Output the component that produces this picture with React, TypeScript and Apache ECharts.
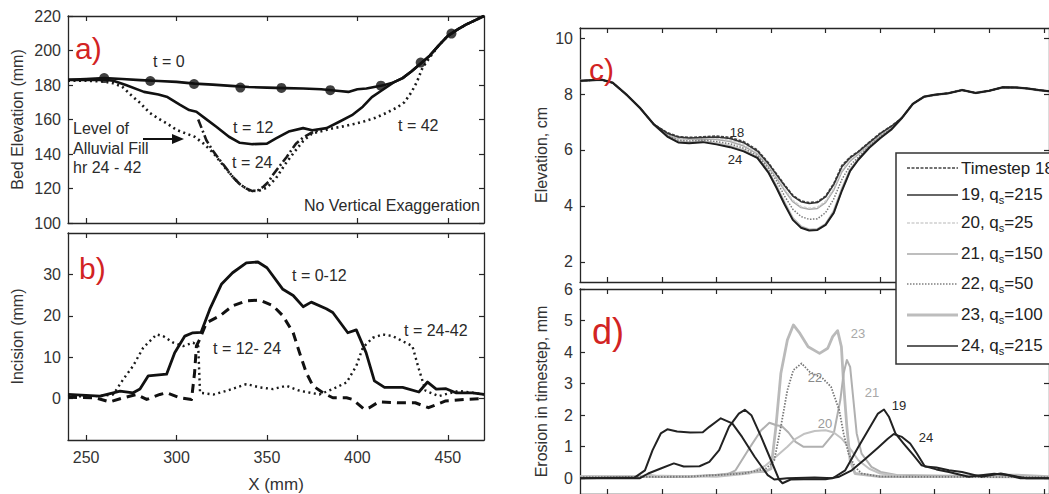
import React, { useEffect, useRef } from "react";
import * as echarts from "echarts";

const FONT = "'Liberation Sans', Arial, Helvetica, sans-serif";

// ---------- Panel a) bed elevation (mm) vs X (mm) ----------
const A_T0: number[][] = [[240,183],[250,183.5],[260,184],[270,183.5],[280,182.8],[290,182.3],[300,181.8],[310,180.8],[320,180.2],[330,179.5],[340,178.8],[350,178.5],[360,178.2],[370,178],[380,177.5],[390,176.5],[395,176],[400,177.5],[405,178],[410,179],[415,180],[420,181.5],[425,184],[430,188],[435,192.5],[440,197],[445,203],[450,208.5],[455,212],[460,215],[465,217.5],[470,220]];
const A_T0_MARKERS: number[][] = [[260,184],[285.5,182.3],[309.7,180.6],[335.3,178.5],[358,178.3],[385,177],[413,179.6],[435,193],[452,209.8]];
const A_T12: number[][] = [[240,183],[250,183],[260,183],[265,182.5],[272,180],[282,176],[290,174.5],[295,173],[302,168.5],[307,165.5],[311,164.5],[316,160.5],[322,155.8],[329,150],[335,146.5],[342,145.7],[350,146],[355,149],[362,153],[370,155],[375,153.8],[383,155],[390,158.7],[397,162.5],[403,167.4],[408,173],[413,176.5],[420,181.5],[425,184],[430,188],[435,192.5],[440,197],[445,203],[450,208.5],[455,212],[460,215],[465,217.5],[470,220]];
const A_T24: number[][] = [[312,160],[316.5,148],[320,142],[324,136.4],[328,131],[331,126.8],[335,122.5],[338.6,120],[342,118.5],[345,119],[348,121],[351,124],[353,127.5],[357,133],[361,138.4],[366,146],[370,149.5],[374,152],[378,153.5]];
const A_T42: number[][] = [[240,182.5],[250,182.5],[260,182],[265,181],[270,179],[275,174],[280,169.5],[285,164],[290,160.5],[295,157.5],[300,154],[305,152],[310,150],[315,146],[320,141],[325,134.5],[330,128],[335,122.5],[340,119],[345,118.5],[350,120.5],[355,126],[360,134],[365,141],[370,147.5],[375,152],[380,153.2],[386,154.8],[392,156],[398,157.4],[404,159],[410,161],[416,163.8],[422,167],[426,170],[430,176],[433,182],[436,190],[440,196],[445,203],[450,208.5],[455,212],[460,215],[465,217.5],[470,220]];

// ---------- Panel b) incision (mm) vs X (mm) ----------
const B_T0_12: number[][] = [[240,1.0],[250,0.8],[257.7,0.6],[265,1.4],[268.8,1.8],[276,1.4],[279.8,2.3],[284.4,5.5],[294.5,5.9],[299,11.1],[304.6,15.1],[309,15.9],[313.6,16],[318.4,21.6],[324.8,27.6],[331,30.4],[338.6,32.8],[345,33],[350,31.6],[358.8,26.4],[364.5,24.9],[370,22.2],[374.5,23.3],[382.8,21.7],[386.4,20.8],[394.7,15.9],[399.4,16.6],[404.8,11.1],[409.4,4.3],[415,2.7],[425,2.7],[434,1.6],[438.8,4.0],[443.6,2.3],[449,2.4],[454.4,1.4],[463.6,1.4],[470,1.0]];
const B_T12_24: number[][] = [[240,0.3],[255,0.2],[263,-0.8],[270.6,0.2],[278,1.0],[283.5,-0.2],[290.8,1.0],[294.5,1.4],[301.8,0.2],[308.3,-0.2],[310,6.3],[311,12.7],[313,14.5],[316.5,18.3],[324,20],[331,22.4],[338.6,23.6],[346,23.8],[353.4,22.4],[358.8,20],[364.5,15.9],[368,11.1],[371.7,6.3],[375.4,3.1],[381,1.4],[386.4,0.2],[394,0.2],[397.4,-0.2],[403.8,-2.6],[406.6,-2.2],[411.8,-0.8],[422.8,-1.0],[432,-1.0],[439.3,-2.2],[448.5,-0.6],[459.6,-0.2],[470,0]];
const B_T24_42: number[][] = [[240,0.5],[257.7,0.6],[265,1.0],[270.6,4.7],[276,7.9],[281.6,12.3],[289,15.5],[292.6,15.1],[298.2,13.5],[303.7,12.7],[309.2,13.5],[312,12.7],[313,1.4],[320.6,1.0],[327.9,1.9],[338.6,3.5],[346,2.7],[353.4,2.3],[360.7,3.1],[368,1.9],[379,1.0],[386.4,2.3],[394,3.9],[399.4,7.9],[403,12.3],[408.5,14.7],[414,15.5],[419.4,15.1],[426.7,13.5],[430.4,12.7],[434,7.1],[437.7,1.9],[445,0.6],[456,1.9],[470,1.0]];

// ---------- Panel c) elevation (cm) ----------
const C_X_LEFT = [0.5, 0.9, 1.1, 1.35, 1.6, 1.85];
const C_LEFT = [8.47, 8.51, 8.40, 7.98, 7.50, 6.92];
const C_X_MID = [2.1, 2.3, 2.5, 2.75, 3.0, 3.25, 3.5, 3.75, 3.95, 4.1, 4.25, 4.4, 4.55, 4.7, 4.85, 5.0, 5.15, 5.3, 5.45, 5.6, 5.8, 6.0, 6.2];
const C_X_RIGHT = [6.4, 6.6, 6.8, 7.0, 7.25, 7.5, 7.75, 8.0, 8.25, 8.5, 8.7, 8.9, 9.1];
const C_RIGHT = [7.15, 7.65, 7.9, 7.97, 8.03, 8.14, 8.04, 8.12, 8.24, 8.23, 8.20, 8.14, 8.10];
const C_18 = [6.62, 6.48, 6.45, 6.47, 6.50, 6.45, 6.30, 6.00, 5.55, 5.15, 4.75, 4.38, 4.18, 4.12, 4.15, 4.35, 4.80, 5.45, 5.75, 5.95, 6.28, 6.60, 6.85];
const C_19 = [6.60, 6.46, 6.43, 6.45, 6.46, 6.41, 6.26, 5.96, 5.52, 5.12, 4.72, 4.35, 4.15, 4.09, 4.12, 4.32, 4.76, 5.40, 5.72, 5.93, 6.26, 6.58, 6.84];
const C_20 = [6.58, 6.43, 6.40, 6.42, 6.41, 6.35, 6.19, 5.90, 5.46, 5.05, 4.60, 4.20, 3.98, 3.92, 3.95, 4.17, 4.62, 5.28, 5.65, 5.88, 6.22, 6.55, 6.82];
const C_21 = [6.56, 6.41, 6.38, 6.39, 6.37, 6.30, 6.14, 5.86, 5.42, 5.00, 4.55, 4.15, 3.94, 3.88, 3.91, 4.12, 4.57, 5.22, 5.60, 5.85, 6.20, 6.53, 6.80];
const C_22 = [6.52, 6.35, 6.32, 6.35, 6.30, 6.22, 6.06, 5.80, 5.35, 4.90, 4.35, 3.88, 3.62, 3.52, 3.54, 3.76, 4.25, 4.95, 5.45, 5.75, 6.14, 6.48, 6.76];
const C_23 = [6.50, 6.30, 6.27, 6.31, 6.23, 6.13, 5.98, 5.73, 5.23, 4.70, 4.10, 3.55, 3.26, 3.15, 3.16, 3.34, 3.80, 4.60, 5.28, 5.67, 6.10, 6.44, 6.73];
const C_24 = [6.48, 6.27, 6.24, 6.28, 6.20, 6.10, 5.95, 5.72, 5.20, 4.65, 4.05, 3.50, 3.22, 3.12, 3.14, 3.32, 3.75, 4.55, 5.25, 5.65, 6.08, 6.42, 6.72];

// ---------- Panel d) erosion in timestep (mm) ----------
const D_19: number[][] = [[0.5,0],[1.5,0.02],[1.69,0.25],[1.83,0.89],[1.98,1.42],[2.1,1.55],[2.28,1.48],[2.52,1.45],[2.75,1.46],[2.87,1.63],[3.08,1.9],[3.29,1.74],[3.47,1.31],[3.7,0.68],[3.94,0.1],[4.06,-0.04],[4.3,0],[4.8,0.02],[5.13,0],[5.36,0.25],[5.6,0.99],[5.78,1.52],[5.96,2.05],[6.07,2.18],[6.16,1.95],[6.28,1.42],[6.43,1.1],[6.61,0.73],[6.76,0.41],[7.03,0.28],[7.26,0.2],[7.62,0.05],[8.09,0.14],[8.33,0.1],[8.57,0],[9.1,0]];
const D_20: number[][] = [[0.5,0.05],[2.0,0.08],[3.0,0.05],[3.6,0.15],[3.9,0.4],[4.1,0.7],[4.3,1.0],[4.45,1.25],[4.6,1.4],[4.8,1.5],[5.0,1.52],[5.15,1.45],[5.3,1.25],[5.47,0.89],[5.6,0.57],[5.8,0.3],[6.0,0.15],[6.5,0.05],[9.1,0.03]];
const D_21: number[][] = [[0.5,0.05],[2.5,0.05],[3.2,0.12],[3.35,0.25],[3.58,0.89],[3.82,1.52],[3.97,1.76],[4.1,1.68],[4.2,1.65],[4.32,1.45],[4.45,1.15],[4.59,1.0],[4.95,1.0],[5.15,1.42],[5.27,2.48],[5.33,3.32],[5.39,3.75],[5.45,3.53],[5.51,2.48],[5.57,1.42],[5.66,0.78],[5.84,0.36],[6.01,0.2],[6.3,0.1],[9.1,0.03]];
const D_22: number[][] = [[0.5,0.03],[2.5,0.05],[3.5,0.15],[3.9,0.3],[4.0,0.45],[4.06,0.57],[4.18,1.63],[4.3,2.79],[4.41,3.43],[4.56,3.64],[4.71,3.37],[4.95,3.16],[5.1,2.9],[5.25,2.16],[5.33,1.42],[5.42,0.78],[5.54,0.36],[5.66,0.15],[6.0,0.05],[9.1,0.03]];
const D_23: number[][] = [[0.5,0.05],[1.6,0.04],[1.75,0.1],[1.9,0.06],[2.5,0.05],[3.0,0.1],[3.5,0.18],[3.9,0.22],[4.0,0.3],[4.09,1.63],[4.18,3.32],[4.3,4.38],[4.41,4.86],[4.53,4.59],[4.68,4.17],[4.89,3.96],[5.04,4.12],[5.13,4.49],[5.22,4.68],[5.29,4.17],[5.33,3.0],[5.39,1.63],[5.45,0.57],[5.54,0.15],[6.0,0.05],[7.0,0.05],[8.0,0.1],[8.5,0.1],[9.1,0.05]];
const D_24: number[][] = [[0.5,0],[1.6,0],[1.75,0.15],[1.98,0.31],[2.22,0.47],[2.4,0.37],[2.69,0.38],[2.87,0.52],[3.05,0.89],[3.23,1.63],[3.41,2.05],[3.52,2.17],[3.64,2.0],[3.82,1.31],[4.0,0.57],[4.15,-0.05],[4.21,-0.16],[4.36,-0.04],[4.6,-0.03],[5.0,-0.03],[5.25,0.05],[5.48,0.25],[5.72,0.6],[5.96,0.97],[6.14,1.25],[6.25,1.4],[6.4,1.31],[6.55,1.1],[6.67,0.79],[6.82,0.37],[7.03,0.34],[7.26,0.25],[7.5,0.2],[7.85,0.05],[8.21,0.15],[8.45,0.07],[8.68,0],[9.1,0]];

// ---------- tick values ----------
const AB_X_TICKS = [250, 300, 350, 400, 450];
const A_Y_TICKS = [100, 120, 140, 160, 180, 200, 220];
const B_Y_TICKS = [0, 10, 20, 30];
const CD_X_TICKS = [1, 2, 3, 4, 5, 6, 7, 8, 9];
const C_Y_TICKS = [2, 4, 6, 8, 10];
const D_Y_TICKS = [0, 1, 2, 3, 4, 5, 6];

const LEGEND_ROWS = [
  { main: "Timestep 18", sub: "", tail: "", stroke: "#444", width: 1.6, dash: [3, 1.5] },
  { main: "19, q", sub: "s", tail: "=215", stroke: "#333", width: 1.6, dash: null },
  { main: "20, q", sub: "s", tail: "=25", stroke: "#cfcfcf", width: 1.6, dash: [3, 1.5] },
  { main: "21, q", sub: "s", tail: "=150", stroke: "#a8a8a8", width: 1.6, dash: null },
  { main: "22, q", sub: "s", tail: "=50", stroke: "#808080", width: 1.6, dash: [1.5, 1.5] },
  { main: "23, q", sub: "s", tail: "=100", stroke: "#bdbdbd", width: 2.8, dash: null },
  { main: "24, q", sub: "s", tail: "=215", stroke: "#2a2a2a", width: 1.6, dash: null },
];
const LEGEND_Y = [168, 194, 222, 253, 283, 314, 345];

const zip = (xs: number[], ys: number[]) => xs.map((x, i) => [x, ys[i]]);
const cSeries = (mid: number[]) => [
  ...zip(C_X_LEFT, C_LEFT),
  ...zip(C_X_MID, mid),
  ...zip(C_X_RIGHT, C_RIGHT),
];

const AXC = "#262626";
const LBL = "#333";

function xAx(gridIndex: number, position: string, min: number, max: number, ticks: number[], showLabels: boolean, extra: any = {}) {
  return {
    type: "value", gridIndex, position, min, max,
    splitLine: { show: false },
    axisLine: { show: true, onZero: false, lineStyle: { color: AXC, width: 1.3 } },
    axisTick: { show: true, inside: true, length: 5, customValues: ticks, lineStyle: { color: AXC, width: 1.2 } },
    axisLabel: { show: showLabels, customValues: ticks, margin: 9, fontSize: 16, color: LBL, fontFamily: FONT },
    ...extra,
  };
}
function yAx(gridIndex: number, position: string, min: number, max: number, ticks: number[], showLabels: boolean, extra: any = {}) {
  return {
    type: "value", gridIndex, position, min, max,
    splitLine: { show: false },
    axisLine: { show: true, onZero: false, lineStyle: { color: AXC, width: 1.3 } },
    axisTick: { show: true, inside: true, length: 5, customValues: ticks, lineStyle: { color: AXC, width: 1.2 } },
    axisLabel: { show: showLabels, customValues: ticks, margin: 7, fontSize: 16, color: LBL, fontFamily: FONT },
    ...extra,
  };
}

// axis index pairs: a -> 0, b -> 2, c -> 4, d -> 6
function line(name: string, ai: number, data: number[][], color: string, width: number, type: any, z = 2) {
  return {
    type: "line", name, xAxisIndex: ai, yAxisIndex: ai, data,
    symbol: "none", showSymbol: false, smooth: false, z,
    lineStyle: { color, width, type, cap: "butt", join: "round" },
  };
}

const txt = (x: number, y: number, text: string, o: any = {}) => ({
  type: "text", x, y, z: 50,
  style: { text, fill: o.fill || "#2a2a2a", fontSize: o.size || 16, fontFamily: FONT, align: o.align || "left", verticalAlign: "middle", ...(o.style || {}) },
});

const RED = "#d22323";

export default function App() {
  const ref = useRef<HTMLDivElement>(null);
  useEffect(() => {
    document.body.style.margin = "0";
    const chart = echarts.init(ref.current!, null, { renderer: "svg" });

    const legendGraphics: any[] = [
      { type: "rect", shape: { x: 896, y: 153, width: 200, height: 211 }, z: 60, style: { fill: "#fff", stroke: "#333", lineWidth: 1.5 } },
    ];
    LEGEND_ROWS.forEach((r, i) => {
      const y = LEGEND_Y[i];
      legendGraphics.push({
        type: "line", z: 61, shape: { x1: 907, y1: y + (i ? 1 : 0), x2: 958, y2: y + (i ? 1 : 0) },
        style: { stroke: r.stroke, lineWidth: r.width, lineDash: r.dash || undefined },
      });
      legendGraphics.push({
        type: "text", x: 961, y, z: 61,
        style: {
          text: r.sub ? `{m|${r.main}}{s|${r.sub}}{m|${r.tail}}` : `{m|${r.main}}`,
          verticalAlign: "middle",
          rich: {
            m: { fontSize: 17, fontFamily: FONT, fill: "#222" },
            s: { fontSize: 11, fontFamily: FONT, fill: "#222", padding: [12, 0, 0, 0] },
          },
        },
      });
    });

    const option: any = {
      animation: false,
      backgroundColor: "#ffffff",
      textStyle: { fontFamily: FONT },
      grid: [
        { left: 68, top: 16, width: 416, height: 207 },
        { left: 68, top: 233, width: 416, height: 208 },
        { left: 580, top: 28, width: 483, height: 254 },
        { left: 580, top: 289, width: 483, height: 205 },
      ],
      xAxis: [
        xAx(0, "bottom", 240, 470, AB_X_TICKS, false),
        xAx(0, "top", 240, 470, AB_X_TICKS, false),
        xAx(1, "bottom", 240, 470, AB_X_TICKS, true, {
          name: "X (mm)", nameLocation: "middle", nameGap: 36,
          nameTextStyle: { fontSize: 17, color: LBL, fontFamily: FONT },
        }),
        xAx(1, "top", 240, 470, AB_X_TICKS, false),
        xAx(2, "bottom", 0.5, 9.094, CD_X_TICKS, false),
        xAx(2, "top", 0.5, 9.094, CD_X_TICKS, false),
        xAx(3, "bottom", 0.5, 9.094, CD_X_TICKS, false),
        xAx(3, "top", 0.5, 9.094, CD_X_TICKS, false),
      ],
      yAxis: [
        yAx(0, "left", 100, 220, A_Y_TICKS, true, {
          name: "Bed Elevation (mm)", nameLocation: "middle", nameGap: 43,
          nameTextStyle: { fontSize: 16, color: LBL, fontFamily: FONT },
        }),
        yAx(0, "right", 100, 220, A_Y_TICKS, false),
        yAx(1, "left", -10, 40, B_Y_TICKS, true, {
          name: "Incision (mm)", nameLocation: "middle", nameGap: 43,
          nameTextStyle: { fontSize: 16, color: LBL, fontFamily: FONT },
        }),
        yAx(1, "right", -10, 40, B_Y_TICKS, false),
        yAx(2, "left", 1.28, 10.36, C_Y_TICKS, true, {
          name: "Elevation, cm", nameLocation: "middle", nameGap: 31,
          nameTextStyle: { fontSize: 16, color: LBL, fontFamily: FONT },
        }),
        yAx(2, "right", 1.28, 10.36, C_Y_TICKS, false),
        yAx(3, "left", -0.5, 6, D_Y_TICKS, true, {
          name: "Erosion in timestep, mm", nameLocation: "middle", nameGap: 31,
          nameTextStyle: { fontSize: 16, color: LBL, fontFamily: FONT },
        }),
        yAx(3, "right", -0.5, 6, D_Y_TICKS, false),
      ],
      series: [
        // a)
        line("t = 42", 0, A_T42, "#1a1a1a", 2.6, [2, 3.5]),
        line("t = 24", 0, A_T24, "#1a1a1a", 2.6, [9, 3, 2, 3]),
        line("t = 12", 0, A_T12, "#111", 2.6, "solid", 3),
        line("t = 0", 0, A_T0, "#111", 2.6, "solid", 3),
        {
          type: "scatter", name: "t = 0 points", xAxisIndex: 0, yAxisIndex: 0, data: A_T0_MARKERS,
          symbol: "circle", symbolSize: 10, itemStyle: { color: "#111" }, z: 4,
        },
        // b)
        line("t = 24-42", 2, B_T24_42, "#1a1a1a", 2.4, [2, 3.5]),
        line("t = 12-24", 2, B_T12_24, "#111", 3, [9, 6]),
        line("t = 0-12", 2, B_T0_12, "#111", 2.8, "solid", 3),
        // c)
        line("23, qs=100", 4, cSeries(C_23), "#bdbdbd", 2.6, "solid"),
        line("21, qs=150", 4, cSeries(C_21), "#a8a8a8", 1.5, "solid"),
        line("20, qs=25", 4, cSeries(C_20), "#cfcfcf", 1.5, [3, 1.5]),
        line("22, qs=50", 4, cSeries(C_22), "#7a7a7a", 1.5, [1.5, 1.5]),
        line("Timestep 18", 4, cSeries(C_18), "#444", 1.6, [3, 1.5]),
        line("19, qs=215", 4, cSeries(C_19), "#333", 1.5, "solid"),
        line("24, qs=215", 4, cSeries(C_24), "#1e1e1e", 2, "solid"),
        // d)
        line("23, qs=100 ", 6, D_23, "#bababa", 2.8, "solid"),
        line("21, qs=150 ", 6, D_21, "#b0b0b0", 2, "solid"),
        line("20, qs=25 ", 6, D_20, "#c2c2c2", 2, "solid"),
        line("22, qs=50 ", 6, D_22, "#777", 1.8, [1.5, 1.5]),
        line("19, qs=215 ", 6, D_19, "#222", 2, "solid", 3),
        line("24, qs=215 ", 6, D_24, "#222", 2, "solid", 3),
      ],
      graphic: [
        // panel letters
        txt(75, 48, "a)", { fill: RED, size: 30 }),
        txt(79, 268, "b)", { fill: RED, size: 30 }),
        txt(589, 69, "c)", { fill: RED, size: 30 }),
        txt(592, 331, "d)", { fill: RED, size: 36 }),
        // a) annotations
        txt(153, 61, "t = 0"),
        txt(233, 127, "t = 12"),
        txt(232, 162, "t = 24"),
        txt(398, 125, "t = 42"),
        txt(73, 128, "Level of"),
        txt(73, 148, "Alluvial Fill"),
        txt(73, 167, "hr 24 - 42"),
        { type: "line", z: 50, shape: { x1: 143, y1: 139, x2: 176, y2: 139 }, style: { stroke: "#111", lineWidth: 2 } },
        { type: "polygon", z: 50, shape: { points: [[172, 134], [184, 139], [172, 144]] }, style: { fill: "#111" } },
        txt(480, 205, "No Vertical Exaggeration", { align: "right" }),
        // b) annotations
        txt(292, 275, "t = 0-12"),
        txt(213, 348, "t = 12- 24"),
        txt(404, 330, "t = 24-42"),
        // c) annotations
        txt(737, 132, "18", { size: 13, align: "center" }),
        txt(735, 159, "24", { size: 13, align: "center" }),
        // d) annotations
        txt(858, 333, "23", { size: 13, align: "center", fill: "#a8a8a8" }),
        txt(872, 392, "21", { size: 13, align: "center", fill: "#a8a8a8" }),
        txt(815, 377, "22", { size: 13, align: "center", fill: "#8a8a8a" }),
        txt(825, 423, "20", { size: 13, align: "center", fill: "#9a9a9a" }),
        txt(899, 405, "19", { size: 13, align: "center" }),
        txt(926, 437, "24", { size: 13, align: "center" }),
        ...legendGraphics,
      ],
    };
    chart.setOption(option);
    return () => chart.dispose();
  }, []);
  return (
    <div
      ref={ref}
      style={{ width: 1049, height: 494, position: "absolute", left: 0, top: 0, background: "#fff" }}
    />
  );
}
